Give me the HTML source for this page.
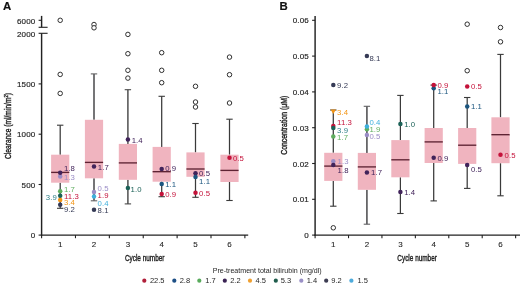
<!DOCTYPE html>
<html lang="en">
<head>
<meta charset="utf-8">
<title>Clearance and concentration by cycle number</title>
<style>
html,body{margin:0;padding:0;background:#fff;}
body{width:520px;height:285px;overflow:hidden;}
svg{display:block;font-family:"Liberation Sans", sans-serif;}
</style>
</head>
<body>
<svg width="520" height="285" viewBox="0 0 520 285">
<rect x="0" y="0" width="520" height="285" fill="#ffffff"/>
<text x="2.90" y="9.70" font-size="11.4" fill="#111" stroke="#111" stroke-width="0.18" text-anchor="start" font-weight="bold" >A</text>
<line x1="41.60" y1="33.30" x2="41.60" y2="235.60" stroke="#222222" stroke-width="1.45" stroke-linecap="butt"/>
<line x1="41.60" y1="15.90" x2="41.60" y2="27.30" stroke="#222222" stroke-width="1.45" stroke-linecap="butt"/>
<line x1="38.60" y1="27.30" x2="47.60" y2="27.30" stroke="#222222" stroke-width="1.1" stroke-linecap="butt"/>
<line x1="38.60" y1="33.30" x2="47.60" y2="33.30" stroke="#222222" stroke-width="1.1" stroke-linecap="butt"/>
<line x1="38.60" y1="20.30" x2="41.60" y2="20.30" stroke="#222222" stroke-width="1.1" stroke-linecap="butt"/>
<line x1="38.60" y1="83.90" x2="41.60" y2="83.90" stroke="#222222" stroke-width="1.1" stroke-linecap="butt"/>
<line x1="38.60" y1="134.20" x2="41.60" y2="134.20" stroke="#222222" stroke-width="1.1" stroke-linecap="butt"/>
<line x1="38.60" y1="184.50" x2="41.60" y2="184.50" stroke="#222222" stroke-width="1.1" stroke-linecap="butt"/>
<line x1="38.60" y1="235.10" x2="41.60" y2="235.10" stroke="#222222" stroke-width="1.1" stroke-linecap="butt"/>
<text x="35.50" y="23.55" font-size="8.0" fill="#1f1f1f" stroke="#1f1f1f" stroke-width="0.16" text-anchor="end" font-weight="normal" letter-spacing="0.2">6000</text>
<text x="35.50" y="36.95" font-size="8.0" fill="#1f1f1f" stroke="#1f1f1f" stroke-width="0.16" text-anchor="end" font-weight="normal" letter-spacing="0.2">2000</text>
<text x="35.50" y="86.95" font-size="8.0" fill="#1f1f1f" stroke="#1f1f1f" stroke-width="0.16" text-anchor="end" font-weight="normal" letter-spacing="0.2">1500</text>
<text x="35.50" y="137.25" font-size="8.0" fill="#1f1f1f" stroke="#1f1f1f" stroke-width="0.16" text-anchor="end" font-weight="normal" letter-spacing="0.2">1000</text>
<text x="35.50" y="187.55" font-size="8.0" fill="#1f1f1f" stroke="#1f1f1f" stroke-width="0.16" text-anchor="end" font-weight="normal" letter-spacing="0.2">500</text>
<text x="35.50" y="238.15" font-size="8.0" fill="#1f1f1f" stroke="#1f1f1f" stroke-width="0.16" text-anchor="end" font-weight="normal" letter-spacing="0.2">0</text>
<line x1="40.90" y1="235.10" x2="248.20" y2="235.10" stroke="#222222" stroke-width="1.4" stroke-linecap="butt"/>
<line x1="41.60" y1="235.10" x2="41.60" y2="238.20" stroke="#222222" stroke-width="1.1" stroke-linecap="butt"/>
<line x1="75.48" y1="235.10" x2="75.48" y2="238.20" stroke="#222222" stroke-width="1.1" stroke-linecap="butt"/>
<line x1="109.36" y1="235.10" x2="109.36" y2="238.20" stroke="#222222" stroke-width="1.1" stroke-linecap="butt"/>
<line x1="143.24" y1="235.10" x2="143.24" y2="238.20" stroke="#222222" stroke-width="1.1" stroke-linecap="butt"/>
<line x1="177.12" y1="235.10" x2="177.12" y2="238.20" stroke="#222222" stroke-width="1.1" stroke-linecap="butt"/>
<line x1="211.00" y1="235.10" x2="211.00" y2="238.20" stroke="#222222" stroke-width="1.1" stroke-linecap="butt"/>
<line x1="244.88" y1="235.10" x2="244.88" y2="238.20" stroke="#222222" stroke-width="1.1" stroke-linecap="butt"/>
<text x="60.20" y="247.30" font-size="8.0" fill="#1f1f1f" stroke="#1f1f1f" stroke-width="0.1" text-anchor="middle" font-weight="normal" >1</text>
<text x="94.00" y="247.30" font-size="8.0" fill="#1f1f1f" stroke="#1f1f1f" stroke-width="0.1" text-anchor="middle" font-weight="normal" >2</text>
<text x="127.90" y="247.30" font-size="8.0" fill="#1f1f1f" stroke="#1f1f1f" stroke-width="0.1" text-anchor="middle" font-weight="normal" >3</text>
<text x="161.70" y="247.30" font-size="8.0" fill="#1f1f1f" stroke="#1f1f1f" stroke-width="0.1" text-anchor="middle" font-weight="normal" >4</text>
<text x="195.50" y="247.30" font-size="8.0" fill="#1f1f1f" stroke="#1f1f1f" stroke-width="0.1" text-anchor="middle" font-weight="normal" >5</text>
<text x="229.50" y="247.30" font-size="8.0" fill="#1f1f1f" stroke="#1f1f1f" stroke-width="0.1" text-anchor="middle" font-weight="normal" >6</text>
<text x="144.7" y="260.8" font-size="9.4" fill="#1f1f1f" stroke="#1f1f1f" stroke-width="0.4" text-anchor="middle" textLength="39.6" lengthAdjust="spacingAndGlyphs">Cycle number</text>
<text transform="translate(11.3,126) rotate(-90)" font-size="9.2" fill="#1f1f1f" stroke="#1f1f1f" stroke-width="0.4" text-anchor="middle" textLength="66" lengthAdjust="spacingAndGlyphs">Clearance (ml/min/m<tspan font-size="5.6" dy="-3.6">2</tspan><tspan dy="3.6">)</tspan></text>
<line x1="60.20" y1="125.20" x2="60.20" y2="154.70" stroke="#3a3a3a" stroke-width="1.25" stroke-linecap="butt"/>
<line x1="60.20" y1="182.70" x2="60.20" y2="208.30" stroke="#3a3a3a" stroke-width="1.25" stroke-linecap="butt"/>
<line x1="57.00" y1="125.20" x2="63.40" y2="125.20" stroke="#3a3a3a" stroke-width="1.1" stroke-linecap="butt"/>
<line x1="57.00" y1="208.30" x2="63.40" y2="208.30" stroke="#3a3a3a" stroke-width="1.1" stroke-linecap="butt"/>
<rect x="51.10" y="154.70" width="18.20" height="28.00" fill="#f0b4bf"/>
<line x1="51.10" y1="172.40" x2="69.30" y2="172.40" stroke="#5e2333" stroke-width="1.35" stroke-linecap="butt"/>
<line x1="94.00" y1="73.90" x2="94.00" y2="119.80" stroke="#626264" stroke-width="1.75" stroke-linecap="butt"/>
<line x1="94.00" y1="178.30" x2="94.00" y2="200.80" stroke="#626264" stroke-width="1.75" stroke-linecap="butt"/>
<line x1="90.80" y1="73.90" x2="97.20" y2="73.90" stroke="#626264" stroke-width="1.1" stroke-linecap="butt"/>
<line x1="90.80" y1="200.80" x2="97.20" y2="200.80" stroke="#626264" stroke-width="1.1" stroke-linecap="butt"/>
<rect x="84.90" y="119.80" width="18.20" height="58.50" fill="#f0b4bf"/>
<line x1="84.90" y1="162.40" x2="103.10" y2="162.40" stroke="#5e2333" stroke-width="1.35" stroke-linecap="butt"/>
<line x1="127.90" y1="89.70" x2="127.90" y2="143.90" stroke="#4a4a4a" stroke-width="1.45" stroke-linecap="butt"/>
<line x1="127.90" y1="179.80" x2="127.90" y2="203.90" stroke="#4a4a4a" stroke-width="1.45" stroke-linecap="butt"/>
<line x1="124.70" y1="89.70" x2="131.10" y2="89.70" stroke="#4a4a4a" stroke-width="1.1" stroke-linecap="butt"/>
<line x1="124.70" y1="203.90" x2="131.10" y2="203.90" stroke="#4a4a4a" stroke-width="1.1" stroke-linecap="butt"/>
<rect x="118.80" y="143.90" width="18.20" height="35.90" fill="#f0b4bf"/>
<line x1="118.80" y1="162.90" x2="137.00" y2="162.90" stroke="#5e2333" stroke-width="1.35" stroke-linecap="butt"/>
<line x1="161.70" y1="96.30" x2="161.70" y2="146.90" stroke="#3a3a3a" stroke-width="1.25" stroke-linecap="butt"/>
<line x1="161.70" y1="181.70" x2="161.70" y2="196.70" stroke="#3a3a3a" stroke-width="1.25" stroke-linecap="butt"/>
<line x1="158.50" y1="96.30" x2="164.90" y2="96.30" stroke="#3a3a3a" stroke-width="1.1" stroke-linecap="butt"/>
<line x1="158.50" y1="196.70" x2="164.90" y2="196.70" stroke="#3a3a3a" stroke-width="1.1" stroke-linecap="butt"/>
<rect x="152.60" y="146.90" width="18.20" height="34.80" fill="#f0b4bf"/>
<line x1="152.60" y1="171.70" x2="170.80" y2="171.70" stroke="#5e2333" stroke-width="1.35" stroke-linecap="butt"/>
<line x1="195.50" y1="123.50" x2="195.50" y2="152.40" stroke="#3a3a3a" stroke-width="1.25" stroke-linecap="butt"/>
<line x1="195.50" y1="176.80" x2="195.50" y2="197.30" stroke="#3a3a3a" stroke-width="1.25" stroke-linecap="butt"/>
<line x1="192.30" y1="123.50" x2="198.70" y2="123.50" stroke="#3a3a3a" stroke-width="1.1" stroke-linecap="butt"/>
<line x1="192.30" y1="197.30" x2="198.70" y2="197.30" stroke="#3a3a3a" stroke-width="1.1" stroke-linecap="butt"/>
<rect x="186.40" y="152.40" width="18.20" height="24.40" fill="#f0b4bf"/>
<line x1="186.40" y1="169.00" x2="204.60" y2="169.00" stroke="#5e2333" stroke-width="1.35" stroke-linecap="butt"/>
<line x1="229.50" y1="119.20" x2="229.50" y2="154.70" stroke="#3a3a3a" stroke-width="1.25" stroke-linecap="butt"/>
<line x1="229.50" y1="182.00" x2="229.50" y2="200.50" stroke="#3a3a3a" stroke-width="1.25" stroke-linecap="butt"/>
<line x1="226.30" y1="119.20" x2="232.70" y2="119.20" stroke="#3a3a3a" stroke-width="1.1" stroke-linecap="butt"/>
<line x1="226.30" y1="200.50" x2="232.70" y2="200.50" stroke="#3a3a3a" stroke-width="1.1" stroke-linecap="butt"/>
<rect x="220.40" y="154.70" width="18.20" height="27.30" fill="#f0b4bf"/>
<line x1="220.40" y1="170.40" x2="238.60" y2="170.40" stroke="#5e2333" stroke-width="1.35" stroke-linecap="butt"/>
<circle cx="60.20" cy="20.30" r="2.25" fill="#fff" stroke="#303030" stroke-width="1.0"/>
<circle cx="60.20" cy="74.40" r="2.25" fill="#fff" stroke="#303030" stroke-width="1.0"/>
<circle cx="60.20" cy="93.40" r="2.25" fill="#fff" stroke="#303030" stroke-width="1.0"/>
<circle cx="94.00" cy="24.50" r="2.25" fill="#fff" stroke="#303030" stroke-width="1.0"/>
<circle cx="94.00" cy="27.80" r="2.25" fill="#fff" stroke="#303030" stroke-width="1.0"/>
<circle cx="127.90" cy="34.40" r="2.25" fill="#fff" stroke="#303030" stroke-width="1.0"/>
<circle cx="127.90" cy="53.70" r="2.25" fill="#fff" stroke="#303030" stroke-width="1.0"/>
<circle cx="127.90" cy="70.30" r="2.25" fill="#fff" stroke="#303030" stroke-width="1.0"/>
<circle cx="127.90" cy="78.10" r="2.25" fill="#fff" stroke="#303030" stroke-width="1.0"/>
<circle cx="161.70" cy="52.70" r="2.25" fill="#fff" stroke="#303030" stroke-width="1.0"/>
<circle cx="161.70" cy="70.30" r="2.25" fill="#fff" stroke="#303030" stroke-width="1.0"/>
<circle cx="161.70" cy="82.70" r="2.25" fill="#fff" stroke="#303030" stroke-width="1.0"/>
<circle cx="195.50" cy="86.30" r="2.25" fill="#fff" stroke="#303030" stroke-width="1.0"/>
<circle cx="195.50" cy="102.00" r="2.25" fill="#fff" stroke="#303030" stroke-width="1.0"/>
<circle cx="195.50" cy="107.00" r="2.25" fill="#fff" stroke="#303030" stroke-width="1.0"/>
<circle cx="229.50" cy="57.10" r="2.25" fill="#fff" stroke="#303030" stroke-width="1.0"/>
<circle cx="229.50" cy="74.70" r="2.25" fill="#fff" stroke="#303030" stroke-width="1.0"/>
<circle cx="229.50" cy="103.00" r="2.25" fill="#fff" stroke="#303030" stroke-width="1.0"/>
<circle cx="60.20" cy="176.60" r="2.25" fill="#9a8cc6" stroke="none" stroke-width="0"/>
<circle cx="60.20" cy="172.70" r="2.25" fill="#41235a" stroke="none" stroke-width="0"/>
<circle cx="60.20" cy="191.30" r="2.25" fill="#5fae5f" stroke="none" stroke-width="0"/>
<circle cx="60.20" cy="195.80" r="2.25" fill="#1b6157" stroke="none" stroke-width="0"/>
<circle cx="60.20" cy="200.10" r="2.25" fill="#f29414" stroke="none" stroke-width="0"/>
<circle cx="60.20" cy="204.70" r="2.25" fill="#353a55" stroke="none" stroke-width="0"/>
<text x="63.90" y="171.10" font-size="7.75" fill="#41235a" stroke="#41235a" stroke-width="0.0" text-anchor="start" font-weight="normal" letter-spacing="0.1">1.8</text>
<text x="63.90" y="180.30" font-size="7.75" fill="#9a8cc6" stroke="#9a8cc6" stroke-width="0.0" text-anchor="start" font-weight="normal" letter-spacing="0.1">1.3</text>
<text x="63.90" y="192.10" font-size="7.75" fill="#5fae5f" stroke="#5fae5f" stroke-width="0.0" text-anchor="start" font-weight="normal" letter-spacing="0.1">1.7</text>
<text x="63.90" y="198.70" font-size="7.75" fill="#c4123a" stroke="#c4123a" stroke-width="0.0" text-anchor="start" font-weight="normal" letter-spacing="0.1">11.3</text>
<text x="56.80" y="199.80" font-size="7.75" fill="#2e7f87" stroke="#2e7f87" stroke-width="0.0" text-anchor="end" font-weight="normal" letter-spacing="0.1">3.9</text>
<text x="63.90" y="205.20" font-size="7.75" fill="#f29414" stroke="#f29414" stroke-width="0.0" text-anchor="start" font-weight="normal" letter-spacing="0.1">3.4</text>
<text x="63.90" y="211.80" font-size="7.75" fill="#353a55" stroke="#353a55" stroke-width="0.0" text-anchor="start" font-weight="normal" letter-spacing="0.1">9.2</text>
<circle cx="94.00" cy="166.60" r="2.25" fill="#41235a" stroke="none" stroke-width="0"/>
<text x="97.80" y="169.80" font-size="7.75" fill="#41235a" stroke="#41235a" stroke-width="0.0" text-anchor="start" font-weight="normal" letter-spacing="0.1">1.7</text>
<circle cx="94.00" cy="192.00" r="2.25" fill="#9a8cc6" stroke="none" stroke-width="0"/>
<circle cx="94.00" cy="196.50" r="2.25" fill="#3fb0dd" stroke="none" stroke-width="0"/>
<circle cx="94.00" cy="209.80" r="2.25" fill="#353a55" stroke="none" stroke-width="0"/>
<text x="97.60" y="191.30" font-size="7.75" fill="#9a8cc6" stroke="#9a8cc6" stroke-width="0.0" text-anchor="start" font-weight="normal" letter-spacing="0.1">0.5</text>
<text x="97.60" y="198.20" font-size="7.75" fill="#c4123a" stroke="#c4123a" stroke-width="0.0" text-anchor="start" font-weight="normal" letter-spacing="0.1">1.9</text>
<text x="97.60" y="205.70" font-size="7.75" fill="#3fb0dd" stroke="#3fb0dd" stroke-width="0.0" text-anchor="start" font-weight="normal" letter-spacing="0.1">0.4</text>
<text x="97.60" y="213.40" font-size="7.75" fill="#353a55" stroke="#353a55" stroke-width="0.0" text-anchor="start" font-weight="normal" letter-spacing="0.1">8.1</text>
<circle cx="127.90" cy="139.50" r="2.25" fill="#41235a" stroke="none" stroke-width="0"/>
<text x="131.70" y="142.60" font-size="7.75" fill="#41235a" stroke="#41235a" stroke-width="0.0" text-anchor="start" font-weight="normal" letter-spacing="0.1">1.4</text>
<circle cx="127.90" cy="188.00" r="2.25" fill="#1b6157" stroke="none" stroke-width="0"/>
<text x="130.60" y="192.10" font-size="7.75" fill="#1b6157" stroke="#1b6157" stroke-width="0.0" text-anchor="start" font-weight="normal" letter-spacing="0.1">1.0</text>
<circle cx="161.70" cy="168.90" r="2.25" fill="#41235a" stroke="none" stroke-width="0"/>
<text x="165.20" y="171.10" font-size="7.75" fill="#41235a" stroke="#41235a" stroke-width="0.0" text-anchor="start" font-weight="normal" letter-spacing="0.1">0.9</text>
<circle cx="161.70" cy="183.90" r="2.25" fill="#1b557f" stroke="none" stroke-width="0"/>
<text x="165.20" y="187.00" font-size="7.75" fill="#1b557f" stroke="#1b557f" stroke-width="0.0" text-anchor="start" font-weight="normal" letter-spacing="0.1">1.1</text>
<circle cx="161.70" cy="193.90" r="2.25" fill="#c4123a" stroke="none" stroke-width="0"/>
<text x="165.20" y="197.00" font-size="7.75" fill="#c4123a" stroke="#c4123a" stroke-width="0.0" text-anchor="start" font-weight="normal" letter-spacing="0.1">0.9</text>
<circle cx="195.50" cy="173.20" r="2.25" fill="#41235a" stroke="none" stroke-width="0"/>
<text x="199.00" y="176.00" font-size="7.75" fill="#41235a" stroke="#41235a" stroke-width="0.0" text-anchor="start" font-weight="normal" letter-spacing="0.1">0.5</text>
<circle cx="195.50" cy="177.10" r="2.25" fill="#1b557f" stroke="none" stroke-width="0"/>
<text x="199.00" y="183.60" font-size="7.75" fill="#1b557f" stroke="#1b557f" stroke-width="0.0" text-anchor="start" font-weight="normal" letter-spacing="0.1">1.1</text>
<circle cx="195.50" cy="192.80" r="2.25" fill="#c4123a" stroke="none" stroke-width="0"/>
<text x="199.00" y="195.90" font-size="7.75" fill="#c4123a" stroke="#c4123a" stroke-width="0.0" text-anchor="start" font-weight="normal" letter-spacing="0.1">0.5</text>
<circle cx="229.50" cy="157.80" r="2.25" fill="#c4123a" stroke="none" stroke-width="0"/>
<text x="232.90" y="160.60" font-size="7.75" fill="#c4123a" stroke="#c4123a" stroke-width="0.0" text-anchor="start" font-weight="normal" letter-spacing="0.1">0.5</text>
<text x="279.60" y="9.70" font-size="11.4" fill="#111" stroke="#111" stroke-width="0.18" text-anchor="start" font-weight="bold" >B</text>
<line x1="315.10" y1="15.90" x2="315.10" y2="235.60" stroke="#222222" stroke-width="1.45" stroke-linecap="butt"/>
<line x1="312.10" y1="20.30" x2="315.10" y2="20.30" stroke="#222222" stroke-width="1.1" stroke-linecap="butt"/>
<text x="309.00" y="23.35" font-size="8.0" fill="#1f1f1f" stroke="#1f1f1f" stroke-width="0.16" text-anchor="end" font-weight="normal" letter-spacing="0.2">0.06</text>
<line x1="312.10" y1="56.10" x2="315.10" y2="56.10" stroke="#222222" stroke-width="1.1" stroke-linecap="butt"/>
<text x="309.00" y="59.15" font-size="8.0" fill="#1f1f1f" stroke="#1f1f1f" stroke-width="0.16" text-anchor="end" font-weight="normal" letter-spacing="0.2">0.05</text>
<line x1="312.10" y1="91.90" x2="315.10" y2="91.90" stroke="#222222" stroke-width="1.1" stroke-linecap="butt"/>
<text x="309.00" y="94.95" font-size="8.0" fill="#1f1f1f" stroke="#1f1f1f" stroke-width="0.16" text-anchor="end" font-weight="normal" letter-spacing="0.2">0.04</text>
<line x1="312.10" y1="127.70" x2="315.10" y2="127.70" stroke="#222222" stroke-width="1.1" stroke-linecap="butt"/>
<text x="309.00" y="130.75" font-size="8.0" fill="#1f1f1f" stroke="#1f1f1f" stroke-width="0.16" text-anchor="end" font-weight="normal" letter-spacing="0.2">0.03</text>
<line x1="312.10" y1="163.50" x2="315.10" y2="163.50" stroke="#222222" stroke-width="1.1" stroke-linecap="butt"/>
<text x="309.00" y="166.55" font-size="8.0" fill="#1f1f1f" stroke="#1f1f1f" stroke-width="0.16" text-anchor="end" font-weight="normal" letter-spacing="0.2">0.02</text>
<line x1="312.10" y1="199.30" x2="315.10" y2="199.30" stroke="#222222" stroke-width="1.1" stroke-linecap="butt"/>
<text x="309.00" y="202.35" font-size="8.0" fill="#1f1f1f" stroke="#1f1f1f" stroke-width="0.16" text-anchor="end" font-weight="normal" letter-spacing="0.2">0.01</text>
<line x1="312.10" y1="235.10" x2="315.10" y2="235.10" stroke="#222222" stroke-width="1.1" stroke-linecap="butt"/>
<text x="309.00" y="238.15" font-size="8.0" fill="#1f1f1f" stroke="#1f1f1f" stroke-width="0.16" text-anchor="end" font-weight="normal" letter-spacing="0.2">0</text>
<line x1="314.40" y1="235.10" x2="520.00" y2="235.10" stroke="#222222" stroke-width="1.4" stroke-linecap="butt"/>
<line x1="315.10" y1="235.10" x2="315.10" y2="238.20" stroke="#222222" stroke-width="1.1" stroke-linecap="butt"/>
<line x1="348.52" y1="235.10" x2="348.52" y2="238.20" stroke="#222222" stroke-width="1.1" stroke-linecap="butt"/>
<line x1="381.94" y1="235.10" x2="381.94" y2="238.20" stroke="#222222" stroke-width="1.1" stroke-linecap="butt"/>
<line x1="415.36" y1="235.10" x2="415.36" y2="238.20" stroke="#222222" stroke-width="1.1" stroke-linecap="butt"/>
<line x1="448.78" y1="235.10" x2="448.78" y2="238.20" stroke="#222222" stroke-width="1.1" stroke-linecap="butt"/>
<line x1="482.20" y1="235.10" x2="482.20" y2="238.20" stroke="#222222" stroke-width="1.1" stroke-linecap="butt"/>
<line x1="515.62" y1="235.10" x2="515.62" y2="238.20" stroke="#222222" stroke-width="1.1" stroke-linecap="butt"/>
<text x="333.30" y="247.30" font-size="8.0" fill="#1f1f1f" stroke="#1f1f1f" stroke-width="0.1" text-anchor="middle" font-weight="normal" >1</text>
<text x="366.90" y="247.30" font-size="8.0" fill="#1f1f1f" stroke="#1f1f1f" stroke-width="0.1" text-anchor="middle" font-weight="normal" >2</text>
<text x="400.40" y="247.30" font-size="8.0" fill="#1f1f1f" stroke="#1f1f1f" stroke-width="0.1" text-anchor="middle" font-weight="normal" >3</text>
<text x="433.70" y="247.30" font-size="8.0" fill="#1f1f1f" stroke="#1f1f1f" stroke-width="0.1" text-anchor="middle" font-weight="normal" >4</text>
<text x="467.20" y="247.30" font-size="8.0" fill="#1f1f1f" stroke="#1f1f1f" stroke-width="0.1" text-anchor="middle" font-weight="normal" >5</text>
<text x="500.50" y="247.30" font-size="8.0" fill="#1f1f1f" stroke="#1f1f1f" stroke-width="0.1" text-anchor="middle" font-weight="normal" >6</text>
<text x="417.1" y="260.8" font-size="9.4" fill="#1f1f1f" stroke="#1f1f1f" stroke-width="0.4" text-anchor="middle" textLength="39.6" lengthAdjust="spacingAndGlyphs">Cycle number</text>
<text transform="translate(287.0,125.3) rotate(-90)" font-size="9.2" fill="#1f1f1f" stroke="#1f1f1f" stroke-width="0.4" text-anchor="middle" textLength="59" lengthAdjust="spacingAndGlyphs">Concentration (μM)</text>
<line x1="333.30" y1="110.00" x2="333.30" y2="152.80" stroke="#3a3a3a" stroke-width="1.25" stroke-linecap="butt"/>
<line x1="333.30" y1="180.90" x2="333.30" y2="206.20" stroke="#3a3a3a" stroke-width="1.25" stroke-linecap="butt"/>
<line x1="330.10" y1="110.00" x2="336.50" y2="110.00" stroke="#3a3a3a" stroke-width="1.1" stroke-linecap="butt"/>
<line x1="330.10" y1="206.20" x2="336.50" y2="206.20" stroke="#3a3a3a" stroke-width="1.1" stroke-linecap="butt"/>
<rect x="324.20" y="152.80" width="18.20" height="28.10" fill="#f0b4bf"/>
<line x1="324.20" y1="166.10" x2="342.40" y2="166.10" stroke="#5e2333" stroke-width="1.35" stroke-linecap="butt"/>
<line x1="366.90" y1="106.30" x2="366.90" y2="152.90" stroke="#626264" stroke-width="1.75" stroke-linecap="butt"/>
<line x1="366.90" y1="189.80" x2="366.90" y2="224.20" stroke="#626264" stroke-width="1.75" stroke-linecap="butt"/>
<line x1="363.70" y1="106.30" x2="370.10" y2="106.30" stroke="#626264" stroke-width="1.1" stroke-linecap="butt"/>
<line x1="363.70" y1="224.20" x2="370.10" y2="224.20" stroke="#626264" stroke-width="1.1" stroke-linecap="butt"/>
<rect x="357.80" y="152.90" width="18.20" height="36.90" fill="#f0b4bf"/>
<line x1="357.80" y1="166.90" x2="376.00" y2="166.90" stroke="#5e2333" stroke-width="1.35" stroke-linecap="butt"/>
<line x1="400.40" y1="95.40" x2="400.40" y2="140.10" stroke="#3a3a3a" stroke-width="1.25" stroke-linecap="butt"/>
<line x1="400.40" y1="177.30" x2="400.40" y2="213.50" stroke="#3a3a3a" stroke-width="1.25" stroke-linecap="butt"/>
<line x1="397.20" y1="95.40" x2="403.60" y2="95.40" stroke="#3a3a3a" stroke-width="1.1" stroke-linecap="butt"/>
<line x1="397.20" y1="213.50" x2="403.60" y2="213.50" stroke="#3a3a3a" stroke-width="1.1" stroke-linecap="butt"/>
<rect x="391.30" y="140.10" width="18.20" height="37.20" fill="#f0b4bf"/>
<line x1="391.30" y1="159.80" x2="409.50" y2="159.80" stroke="#5e2333" stroke-width="1.35" stroke-linecap="butt"/>
<line x1="433.70" y1="85.10" x2="433.70" y2="128.00" stroke="#3a3a3a" stroke-width="1.25" stroke-linecap="butt"/>
<line x1="433.70" y1="163.00" x2="433.70" y2="200.90" stroke="#3a3a3a" stroke-width="1.25" stroke-linecap="butt"/>
<line x1="430.50" y1="85.10" x2="436.90" y2="85.10" stroke="#3a3a3a" stroke-width="1.1" stroke-linecap="butt"/>
<line x1="430.50" y1="200.90" x2="436.90" y2="200.90" stroke="#3a3a3a" stroke-width="1.1" stroke-linecap="butt"/>
<rect x="424.60" y="128.00" width="18.20" height="35.00" fill="#f0b4bf"/>
<line x1="424.60" y1="141.90" x2="442.80" y2="141.90" stroke="#5e2333" stroke-width="1.35" stroke-linecap="butt"/>
<line x1="467.20" y1="97.50" x2="467.20" y2="128.00" stroke="#3a3a3a" stroke-width="1.25" stroke-linecap="butt"/>
<line x1="467.20" y1="163.90" x2="467.20" y2="188.40" stroke="#3a3a3a" stroke-width="1.25" stroke-linecap="butt"/>
<line x1="464.00" y1="97.50" x2="470.40" y2="97.50" stroke="#3a3a3a" stroke-width="1.1" stroke-linecap="butt"/>
<line x1="464.00" y1="188.40" x2="470.40" y2="188.40" stroke="#3a3a3a" stroke-width="1.1" stroke-linecap="butt"/>
<rect x="458.10" y="128.00" width="18.20" height="35.90" fill="#f0b4bf"/>
<line x1="458.10" y1="145.20" x2="476.30" y2="145.20" stroke="#5e2333" stroke-width="1.35" stroke-linecap="butt"/>
<line x1="500.50" y1="54.40" x2="500.50" y2="117.30" stroke="#3a3a3a" stroke-width="1.25" stroke-linecap="butt"/>
<line x1="500.50" y1="163.20" x2="500.50" y2="195.80" stroke="#3a3a3a" stroke-width="1.25" stroke-linecap="butt"/>
<line x1="497.30" y1="54.40" x2="503.70" y2="54.40" stroke="#3a3a3a" stroke-width="1.1" stroke-linecap="butt"/>
<line x1="497.30" y1="195.80" x2="503.70" y2="195.80" stroke="#3a3a3a" stroke-width="1.1" stroke-linecap="butt"/>
<rect x="491.40" y="117.30" width="18.20" height="45.90" fill="#f0b4bf"/>
<line x1="491.40" y1="134.70" x2="509.60" y2="134.70" stroke="#5e2333" stroke-width="1.35" stroke-linecap="butt"/>
<circle cx="333.30" cy="227.80" r="2.25" fill="#fff" stroke="#303030" stroke-width="1.0"/>
<circle cx="467.20" cy="24.20" r="2.25" fill="#fff" stroke="#303030" stroke-width="1.0"/>
<circle cx="467.20" cy="70.70" r="2.25" fill="#fff" stroke="#303030" stroke-width="1.0"/>
<circle cx="500.50" cy="27.50" r="2.25" fill="#fff" stroke="#303030" stroke-width="1.0"/>
<circle cx="500.50" cy="41.80" r="2.25" fill="#fff" stroke="#303030" stroke-width="1.0"/>
<circle cx="333.30" cy="84.90" r="2.25" fill="#353a55" stroke="none" stroke-width="0"/>
<text x="337.10" y="87.80" font-size="7.75" fill="#353a55" stroke="#353a55" stroke-width="0.0" text-anchor="start" font-weight="normal" letter-spacing="0.1">9.2</text>
<path d="M330.60 109.4 L336.00 109.4 L333.30 114.0 Z" fill="#f29414"/>
<text x="337.10" y="114.80" font-size="7.75" fill="#f29414" stroke="#f29414" stroke-width="0.0" text-anchor="start" font-weight="normal" letter-spacing="0.1">3.4</text>
<circle cx="333.30" cy="126.00" r="2.25" fill="#c4123a" stroke="none" stroke-width="0"/>
<circle cx="333.30" cy="128.00" r="2.25" fill="#1b6157" stroke="none" stroke-width="0"/>
<circle cx="333.30" cy="136.50" r="2.25" fill="#5fae5f" stroke="none" stroke-width="0"/>
<text x="337.10" y="125.10" font-size="7.75" fill="#c4123a" stroke="#c4123a" stroke-width="0.0" text-anchor="start" font-weight="normal" letter-spacing="0.1">11.3</text>
<text x="337.10" y="132.80" font-size="7.75" fill="#2e7f87" stroke="#2e7f87" stroke-width="0.0" text-anchor="start" font-weight="normal" letter-spacing="0.1">3.9</text>
<text x="337.10" y="139.80" font-size="7.75" fill="#5fae5f" stroke="#5fae5f" stroke-width="0.0" text-anchor="start" font-weight="normal" letter-spacing="0.1">1.7</text>
<circle cx="333.30" cy="161.30" r="2.25" fill="#9a8cc6" stroke="none" stroke-width="0"/>
<circle cx="333.30" cy="165.00" r="2.25" fill="#41235a" stroke="none" stroke-width="0"/>
<text x="337.60" y="163.60" font-size="7.75" fill="#9a8cc6" stroke="#9a8cc6" stroke-width="0.0" text-anchor="start" font-weight="normal" letter-spacing="0.1">1.3</text>
<text x="337.60" y="172.90" font-size="7.75" fill="#41235a" stroke="#41235a" stroke-width="0.0" text-anchor="start" font-weight="normal" letter-spacing="0.1">1.8</text>
<circle cx="366.90" cy="55.90" r="2.25" fill="#353a55" stroke="none" stroke-width="0"/>
<text x="369.40" y="60.60" font-size="7.75" fill="#353a55" stroke="#353a55" stroke-width="0.0" text-anchor="start" font-weight="normal" letter-spacing="0.1">8.1</text>
<circle cx="366.90" cy="129.30" r="2.25" fill="#5fae5f" stroke="none" stroke-width="0"/>
<circle cx="366.90" cy="126.50" r="2.25" fill="#3fb0dd" stroke="none" stroke-width="0"/>
<circle cx="366.90" cy="135.00" r="2.25" fill="#9a8cc6" stroke="none" stroke-width="0"/>
<text x="369.40" y="124.70" font-size="7.75" fill="#3fb0dd" stroke="#3fb0dd" stroke-width="0.0" text-anchor="start" font-weight="normal" letter-spacing="0.1">0.4</text>
<text x="369.40" y="131.60" font-size="7.75" fill="#5fae5f" stroke="#5fae5f" stroke-width="0.0" text-anchor="start" font-weight="normal" letter-spacing="0.1">1.9</text>
<text x="369.40" y="138.70" font-size="7.75" fill="#9a8cc6" stroke="#9a8cc6" stroke-width="0.0" text-anchor="start" font-weight="normal" letter-spacing="0.1">0.5</text>
<circle cx="366.90" cy="172.40" r="2.25" fill="#41235a" stroke="none" stroke-width="0"/>
<text x="371.00" y="175.20" font-size="7.75" fill="#41235a" stroke="#41235a" stroke-width="0.0" text-anchor="start" font-weight="normal" letter-spacing="0.1">1.7</text>
<circle cx="400.40" cy="123.90" r="2.25" fill="#1b6157" stroke="none" stroke-width="0"/>
<text x="404.20" y="126.80" font-size="7.75" fill="#1b6157" stroke="#1b6157" stroke-width="0.0" text-anchor="start" font-weight="normal" letter-spacing="0.1">1.0</text>
<circle cx="400.40" cy="192.00" r="2.25" fill="#41235a" stroke="none" stroke-width="0"/>
<text x="404.20" y="194.80" font-size="7.75" fill="#41235a" stroke="#41235a" stroke-width="0.0" text-anchor="start" font-weight="normal" letter-spacing="0.1">1.4</text>
<circle cx="433.70" cy="88.20" r="2.25" fill="#1b557f" stroke="none" stroke-width="0"/>
<circle cx="433.70" cy="85.10" r="2.25" fill="#c4123a" stroke="none" stroke-width="0"/>
<text x="437.40" y="87.90" font-size="7.75" fill="#c4123a" stroke="#c4123a" stroke-width="0.0" text-anchor="start" font-weight="normal" letter-spacing="0.1">0.9</text>
<text x="437.40" y="94.40" font-size="7.75" fill="#1b557f" stroke="#1b557f" stroke-width="0.0" text-anchor="start" font-weight="normal" letter-spacing="0.1">1.1</text>
<circle cx="433.70" cy="157.80" r="2.25" fill="#41235a" stroke="none" stroke-width="0"/>
<text x="437.40" y="160.60" font-size="7.75" fill="#41235a" stroke="#41235a" stroke-width="0.0" text-anchor="start" font-weight="normal" letter-spacing="0.1">0.9</text>
<circle cx="467.20" cy="86.60" r="2.25" fill="#c4123a" stroke="none" stroke-width="0"/>
<text x="470.90" y="89.40" font-size="7.75" fill="#c4123a" stroke="#c4123a" stroke-width="0.0" text-anchor="start" font-weight="normal" letter-spacing="0.1">0.5</text>
<circle cx="467.20" cy="106.40" r="2.25" fill="#1b557f" stroke="none" stroke-width="0"/>
<text x="470.90" y="109.30" font-size="7.75" fill="#1b557f" stroke="#1b557f" stroke-width="0.0" text-anchor="start" font-weight="normal" letter-spacing="0.1">1.1</text>
<circle cx="467.20" cy="165.10" r="2.25" fill="#41235a" stroke="none" stroke-width="0"/>
<text x="470.90" y="171.80" font-size="7.75" fill="#41235a" stroke="#41235a" stroke-width="0.0" text-anchor="start" font-weight="normal" letter-spacing="0.1">0.5</text>
<circle cx="500.50" cy="154.70" r="2.25" fill="#c4123a" stroke="none" stroke-width="0"/>
<text x="504.50" y="157.50" font-size="7.75" fill="#c4123a" stroke="#c4123a" stroke-width="0.0" text-anchor="start" font-weight="normal" letter-spacing="0.1">0.5</text>
<text x="267.2" y="272.5" font-size="7.5" fill="#1f1f1f" text-anchor="middle" textLength="109.0" lengthAdjust="spacingAndGlyphs">Pre-treatment total bilirubin (mg/dl)</text>
<circle cx="144.30" cy="280.70" r="2.1" fill="#b01f3a" stroke="none" stroke-width="0"/>
<text x="149.90" y="283.45" font-size="7.5" fill="#1f1f1f" stroke="#1f1f1f" stroke-width="0.0" text-anchor="start" font-weight="normal" >22.5</text>
<circle cx="174.30" cy="280.70" r="2.1" fill="#1d4f85" stroke="none" stroke-width="0"/>
<text x="179.70" y="283.45" font-size="7.5" fill="#1f1f1f" stroke="#1f1f1f" stroke-width="0.0" text-anchor="start" font-weight="normal" >2.8</text>
<circle cx="199.30" cy="280.70" r="2.1" fill="#58ab5c" stroke="none" stroke-width="0"/>
<text x="205.30" y="283.45" font-size="7.5" fill="#1f1f1f" stroke="#1f1f1f" stroke-width="0.0" text-anchor="start" font-weight="normal" >1.7</text>
<circle cx="224.80" cy="280.70" r="2.1" fill="#3a2354" stroke="none" stroke-width="0"/>
<text x="230.20" y="283.45" font-size="7.5" fill="#1f1f1f" stroke="#1f1f1f" stroke-width="0.0" text-anchor="start" font-weight="normal" >2.2</text>
<circle cx="250.00" cy="280.70" r="2.1" fill="#f0a030" stroke="none" stroke-width="0"/>
<text x="255.60" y="283.45" font-size="7.5" fill="#1f1f1f" stroke="#1f1f1f" stroke-width="0.0" text-anchor="start" font-weight="normal" >4.5</text>
<circle cx="275.80" cy="280.70" r="2.1" fill="#1f5c4c" stroke="none" stroke-width="0"/>
<text x="280.70" y="283.45" font-size="7.5" fill="#1f1f1f" stroke="#1f1f1f" stroke-width="0.0" text-anchor="start" font-weight="normal" >5.3</text>
<circle cx="301.30" cy="280.70" r="2.1" fill="#9a90c6" stroke="none" stroke-width="0"/>
<text x="306.70" y="283.45" font-size="7.5" fill="#1f1f1f" stroke="#1f1f1f" stroke-width="0.0" text-anchor="start" font-weight="normal" >1.4</text>
<circle cx="326.20" cy="280.70" r="2.1" fill="#3d3d52" stroke="none" stroke-width="0"/>
<text x="331.30" y="283.45" font-size="7.5" fill="#1f1f1f" stroke="#1f1f1f" stroke-width="0.0" text-anchor="start" font-weight="normal" >9.2</text>
<circle cx="351.40" cy="280.70" r="2.1" fill="#4eabdc" stroke="none" stroke-width="0"/>
<text x="357.40" y="283.45" font-size="7.5" fill="#1f1f1f" stroke="#1f1f1f" stroke-width="0.0" text-anchor="start" font-weight="normal" >1.5</text>
</svg>
</body>
</html>
